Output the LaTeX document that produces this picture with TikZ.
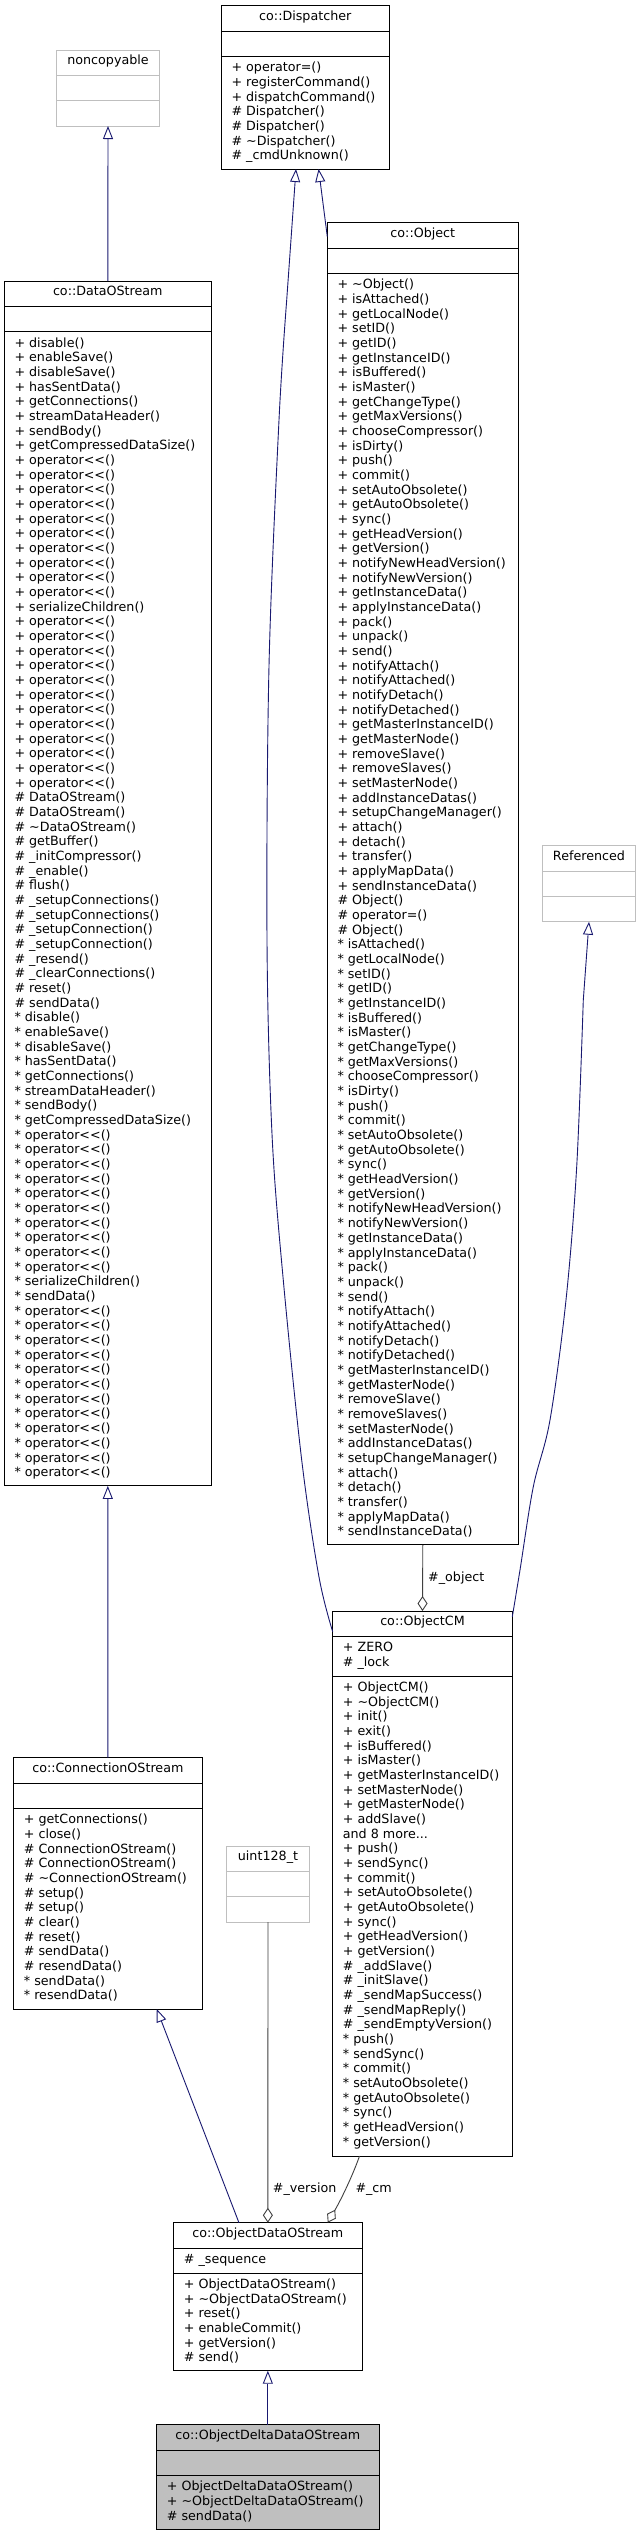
\documentclass[tikz,border=0pt]{standalone}
\usepackage{fontspec}
\setmainfont{DejaVu Sans}
\usetikzlibrary{arrows.meta}
\definecolor{inhblue}{HTML}{191970}
\definecolor{aggrey}{HTML}{404040}
\definecolor{extgrey}{HTML}{BFBFBF}
\definecolor{deltafill}{HTML}{BFBFBF}
\newcommand\umlfont{\fontsize{12.7pt}{14.67pt}\selectfont}
\newcommand\mlist[1]{\begin{tabular}{@{}l@{}}#1\end{tabular}}
\newcommand\popx{+ operator<{}<()}
\newcommand\sopx{{*} operator<{}<()}
\newcommand\sx{{*}}
\tikzset{
  cls/.style={draw=black, line width=0.9pt, fill=white, inner sep=0pt, outer sep=0pt, anchor=north west},
  extcls/.style={cls, draw=extgrey},
  sepk/.style={draw=black, line width=0.9pt},
  sepg/.style={draw=extgrey, line width=0.9pt},
  ttl/.style={anchor=base, inner sep=0pt, font=\umlfont},
  mem/.style={anchor=north west, inner sep=0pt, font=\umlfont},
  lbl/.style={anchor=base west, inner sep=0pt, font=\umlfont},
  inh/.style={draw=inhblue, line width=0.9pt, -{Triangle[open, length=13pt, width=10pt]}},
  agg/.style={draw=aggrey, line width=0.9pt, -{Diamond[open, length=15pt, width=10pt]}},
}
\begin{document}
\begin{tikzpicture}[x=1pt,y=-1pt]
\useasboundingbox (0,0) rectangle (641,2536);
\fill[white] (0,0) rectangle (641,2536);

% ---------- noncopyable
\node[extcls, minimum width=102.6pt, minimum height=76pt] (nc) at (56.7,50) {};
\draw[sepg] ([yshift=-25.3pt]nc.north west) -- ([yshift=-25.3pt]nc.north east);
\draw[sepg] ([yshift=-50.6pt]nc.north west) -- ([yshift=-50.6pt]nc.north east);
\node[ttl] (ncT) at ([yshift=-14.8pt]nc.north) {noncopyable};

% ---------- co::Dispatcher
\node[cls, minimum width=168pt, minimum height=163.3pt] (disp) at (221.3,5.7) {};
\draw[sepk] ([yshift=-25.3pt]disp.north west) -- ([yshift=-25.3pt]disp.north east);
\draw[sepk] ([yshift=-50.6pt]disp.north west) -- ([yshift=-50.6pt]disp.north east);
\node[ttl] (dispT) at ([yshift=-14.8pt]disp.north) {co::Dispatcher};
\node[mem] (dispM) at ([xshift=10pt,yshift=-55.6pt]disp.north west) {\mlist{+ operator=()\\+ registerCommand()\\+ dispatchCommand()\\\# Dispatcher()\\\# Dispatcher()\\\# \textasciitilde Dispatcher()\\\# \_cmdUnknown()}};

% ---------- co::DataOStream
\node[cls, minimum width=207pt, minimum height=1204.9pt] (dos) at (4.3,281) {};
\draw[sepk] ([yshift=-25.3pt]dos.north west) -- ([yshift=-25.3pt]dos.north east);
\draw[sepk] ([yshift=-50.6pt]dos.north west) -- ([yshift=-50.6pt]dos.north east);
\node[ttl] (dosT) at ([yshift=-14.8pt]dos.north) {co::DataOStream};
\node[mem] (dosM) at ([xshift=10pt,yshift=-55.6pt]dos.north west) {\mlist{+ disable()\\+ enableSave()\\+ disableSave()\\+ hasSentData()\\+ getConnections()\\+ streamDataHeader()\\+ sendBody()\\+ getCompressedDataSize()\\
\popx\\\popx\\\popx\\\popx\\\popx\\\popx\\\popx\\\popx\\\popx\\\popx\\
+ serializeChildren()\\
\popx\\\popx\\\popx\\\popx\\\popx\\\popx\\\popx\\\popx\\\popx\\\popx\\\popx\\\popx\\
\# DataOStream()\\\# DataOStream()\\\# \textasciitilde DataOStream()\\\# getBuffer()\\\# \_initCompressor()\\\# \_enable()\\\# flush()\\\# \_setupConnections()\\\# \_setupConnections()\\\# \_setupConnection()\\\# \_setupConnection()\\\# \_resend()\\\# \_clearConnections()\\\# reset()\\\# sendData()\\
\sx{} disable()\\\sx{} enableSave()\\\sx{} disableSave()\\\sx{} hasSentData()\\\sx{} getConnections()\\\sx{} streamDataHeader()\\\sx{} sendBody()\\\sx{} getCompressedDataSize()\\
\sopx\\\sopx\\\sopx\\\sopx\\\sopx\\\sopx\\\sopx\\\sopx\\\sopx\\\sopx\\
\sx{} serializeChildren()\\\sx{} sendData()\\
\sopx\\\sopx\\\sopx\\\sopx\\\sopx\\\sopx\\\sopx\\\sopx\\\sopx\\\sopx\\\sopx\\\sopx}};

% ---------- co::Object
\node[cls, minimum width=191pt, minimum height=1322.2pt] (obj) at (327.3,222.7) {};
\draw[sepk] ([yshift=-25.3pt]obj.north west) -- ([yshift=-25.3pt]obj.north east);
\draw[sepk] ([yshift=-50.6pt]obj.north west) -- ([yshift=-50.6pt]obj.north east);
\node[ttl] (objT) at ([yshift=-14.8pt]obj.north) {co::Object};
\node[mem] (objM) at ([xshift=10pt,yshift=-55.6pt]obj.north west) {\mlist{+ \textasciitilde Object()\\+ isAttached()\\+ getLocalNode()\\+ setID()\\+ getID()\\+ getInstanceID()\\+ isBuffered()\\+ isMaster()\\+ getChangeType()\\+ getMaxVersions()\\+ chooseCompressor()\\+ isDirty()\\+ push()\\+ commit()\\+ setAutoObsolete()\\+ getAutoObsolete()\\+ sync()\\+ getHeadVersion()\\+ getVersion()\\+ notifyNewHeadVersion()\\+ notifyNewVersion()\\+ getInstanceData()\\+ applyInstanceData()\\+ pack()\\+ unpack()\\+ send()\\+ notifyAttach()\\+ notifyAttached()\\+ notifyDetach()\\+ notifyDetached()\\+ getMasterInstanceID()\\+ getMasterNode()\\+ removeSlave()\\+ removeSlaves()\\+ setMasterNode()\\+ addInstanceDatas()\\+ setupChangeManager()\\+ attach()\\+ detach()\\+ transfer()\\+ applyMapData()\\+ sendInstanceData()\\
\# Object()\\\# operator=()\\\# Object()\\
\sx{} isAttached()\\\sx{} getLocalNode()\\\sx{} setID()\\\sx{} getID()\\\sx{} getInstanceID()\\\sx{} isBuffered()\\\sx{} isMaster()\\\sx{} getChangeType()\\\sx{} getMaxVersions()\\\sx{} chooseCompressor()\\\sx{} isDirty()\\\sx{} push()\\\sx{} commit()\\\sx{} setAutoObsolete()\\\sx{} getAutoObsolete()\\\sx{} sync()\\\sx{} getHeadVersion()\\\sx{} getVersion()\\\sx{} notifyNewHeadVersion()\\\sx{} notifyNewVersion()\\\sx{} getInstanceData()\\\sx{} applyInstanceData()\\\sx{} pack()\\\sx{} unpack()\\\sx{} send()\\\sx{} notifyAttach()\\\sx{} notifyAttached()\\\sx{} notifyDetach()\\\sx{} notifyDetached()\\\sx{} getMasterInstanceID()\\\sx{} getMasterNode()\\\sx{} removeSlave()\\\sx{} removeSlaves()\\\sx{} setMasterNode()\\\sx{} addInstanceDatas()\\\sx{} setupChangeManager()\\\sx{} attach()\\\sx{} detach()\\\sx{} transfer()\\\sx{} applyMapData()\\\sx{} sendInstanceData()}};

% ---------- Referenced
\node[extcls, minimum width=93.4pt, minimum height=76pt] (ref) at (542.3,845.7) {};
\draw[sepg] ([yshift=-25.3pt]ref.north west) -- ([yshift=-25.3pt]ref.north east);
\draw[sepg] ([yshift=-50.6pt]ref.north west) -- ([yshift=-50.6pt]ref.north east);
\node[ttl] (refT) at ([yshift=-14.8pt]ref.north) {Referenced};

% ---------- co::ObjectCM
\node[cls, minimum width=179.6pt, minimum height=545pt] (ocm) at (332.7,1611) {};
\draw[sepk] ([yshift=-25.3pt]ocm.north west) -- ([yshift=-25.3pt]ocm.north east);
\draw[sepk] ([yshift=-65pt]ocm.north west) -- ([yshift=-65pt]ocm.north east);
\node[ttl] (ocmT) at ([yshift=-14.8pt]ocm.north) {co::ObjectCM};
\node[mem] (ocmA) at ([xshift=10pt,yshift=-30.3pt]ocm.north west) {\mlist{+ ZERO\\\# \_lock}};
\node[mem] (ocmM) at ([xshift=10pt,yshift=-70pt]ocm.north west) {\mlist{+ ObjectCM()\\+ \textasciitilde ObjectCM()\\+ init()\\+ exit()\\+ isBuffered()\\+ isMaster()\\+ getMasterInstanceID()\\+ setMasterNode()\\+ getMasterNode()\\+ addSlave()\\and 8 more...\\+ push()\\+ sendSync()\\+ commit()\\+ setAutoObsolete()\\+ getAutoObsolete()\\+ sync()\\+ getHeadVersion()\\+ getVersion()\\\# \_addSlave()\\\# \_initSlave()\\\# \_sendMapSuccess()\\\# \_sendMapReply()\\\# \_sendEmptyVersion()\\\sx{} push()\\\sx{} sendSync()\\\sx{} commit()\\\sx{} setAutoObsolete()\\\sx{} getAutoObsolete()\\\sx{} sync()\\\sx{} getHeadVersion()\\\sx{} getVersion()}};

% ---------- co::ConnectionOStream
\node[cls, minimum width=188.3pt, minimum height=251.3pt] (cos) at (13.7,1757.7) {};
\draw[sepk] ([yshift=-25.3pt]cos.north west) -- ([yshift=-25.3pt]cos.north east);
\draw[sepk] ([yshift=-50.6pt]cos.north west) -- ([yshift=-50.6pt]cos.north east);
\node[ttl] (cosT) at ([yshift=-14.8pt]cos.north) {co::ConnectionOStream};
\node[mem] (cosM) at ([xshift=10pt,yshift=-55.6pt]cos.north west) {\mlist{+ getConnections()\\+ close()\\\# ConnectionOStream()\\\# ConnectionOStream()\\\# \textasciitilde ConnectionOStream()\\\# setup()\\\# setup()\\\# clear()\\\# reset()\\\# sendData()\\\# resendData()\\\sx{} sendData()\\\sx{} resendData()}};

% ---------- uint128_t
\node[extcls, minimum width=82.6pt, minimum height=76pt] (u128) at (226.7,1846) {};
\draw[sepg] ([yshift=-25.3pt]u128.north west) -- ([yshift=-25.3pt]u128.north east);
\draw[sepg] ([yshift=-50.6pt]u128.north west) -- ([yshift=-50.6pt]u128.north east);
\node[ttl] (u128T) at ([yshift=-14.8pt]u128.north) {uint128\_t};

% ---------- co::ObjectDataOStream
\node[cls, minimum width=188.3pt, minimum height=148pt] (odos) at (173.7,2222.7) {};
\draw[sepk] ([yshift=-25.3pt]odos.north west) -- ([yshift=-25.3pt]odos.north east);
\draw[sepk] ([yshift=-50.3pt]odos.north west) -- ([yshift=-50.3pt]odos.north east);
\node[ttl] (odosT) at ([yshift=-14.8pt]odos.north) {co::ObjectDataOStream};
\node[mem] (odosA) at ([xshift=10pt,yshift=-30.3pt]odos.north west) {\mlist{\# \_sequence}};
\node[mem] (odosM) at ([xshift=10pt,yshift=-55.3pt]odos.north west) {\mlist{+ ObjectDataOStream()\\+ \textasciitilde ObjectDataOStream()\\+ reset()\\+ enableCommit()\\+ getVersion()\\\# send()}};

% ---------- co::ObjectDeltaDataOStream
\node[cls, fill=deltafill, minimum width=222.3pt, minimum height=104.6pt] (odds) at (156.7,2424.7) {};
\draw[sepk] ([yshift=-25.3pt]odds.north west) -- ([yshift=-25.3pt]odds.north east);
\draw[sepk] ([yshift=-50.6pt]odds.north west) -- ([yshift=-50.6pt]odds.north east);
\node[ttl] (oddsT) at ([yshift=-14.8pt]odds.north) {co::ObjectDeltaDataOStream};
\node[mem] (oddsM) at ([xshift=10pt,yshift=-55.6pt]odds.north west) {\mlist{+ ObjectDeltaDataOStream()\\+ \textasciitilde ObjectDeltaDataOStream()\\\# sendData()}};

% ---------- inheritance edges
\draw[inh] (dos.north) -- (nc.south);
\draw[inh] ([yshift=-14pt]obj.north west) -- ([xshift=13.3pt]disp.south);
\draw[inh] plot[smooth, tension=0.55] coordinates {([yshift=-20.7pt]ocm.north west) (319,1577) (301.7,1460) (283,1277) (272,1134) (267,940) (269,666) (279,420) (286.7,300)} -- ([xshift=-9.3pt]disp.south);
\draw[inh] plot[smooth, tension=0.55] coordinates {([yshift=-5.7pt]ocm.north east) (520,1570) (533.3,1486.7) (550,1420) (566,1300) (576.7,1166.7) (583.3,1000)} -- (ref.south);
\draw[inh] (cos.north) -- (dos.south);
\draw[inh] ([xshift=-28.9pt]odos.north) -- ([xshift=48.9pt]cos.south);
\draw[inh] (odds.north) -- (odos.south);

% ---------- aggregation edges
\draw[agg] (obj.south) -- (ocm.north);
\node[lbl] (lobj) at (428,1581) {\#\_object};
\draw[agg] (u128.south) -- (odos.north);
\node[lbl] (lver) at (272.7,2192) {\#\_version};
\draw[agg] ([xshift=-63pt]ocm.south) .. controls (354,2172) and (343,2196) .. ([xshift=59.9pt]odos.north);
\node[lbl] (lcm) at (355.3,2192) {\#\_cm};
\end{tikzpicture}
\end{document}
